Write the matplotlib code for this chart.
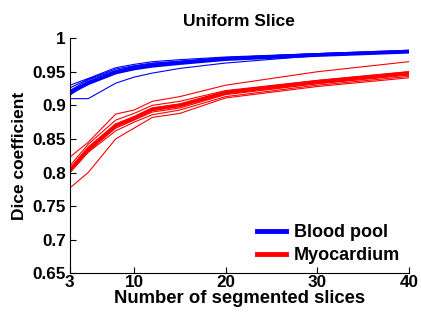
import numpy as np
import matplotlib.pyplot as plt

# number of segmented slices
slices = [3, 5, 8, 10, 12, 15, 20, 30, 40]

# blood pool: individual runs and mean
blood_runs = [
    [0.910, 0.910, 0.933, 0.942, 0.948, 0.955, 0.963, 0.974, 0.979],
    [0.915, 0.934, 0.948, 0.955, 0.958, 0.963, 0.968, 0.975, 0.980],
    [0.918, 0.936, 0.950, 0.956, 0.960, 0.964, 0.969, 0.976, 0.980],
    [0.922, 0.938, 0.952, 0.958, 0.962, 0.965, 0.970, 0.976, 0.981],
    [0.926, 0.939, 0.954, 0.959, 0.963, 0.966, 0.971, 0.977, 0.981],
    [0.930, 0.940, 0.956, 0.961, 0.965, 0.968, 0.972, 0.977, 0.982],
]
blood_mean = [0.919, 0.933, 0.949, 0.955, 0.959, 0.963, 0.969, 0.975, 0.980]

# myocardium: individual runs and mean
myo_runs = [
    [0.823, 0.845, 0.887, 0.893, 0.906, 0.913, 0.930, 0.950, 0.965],
    [0.810, 0.842, 0.878, 0.888, 0.900, 0.906, 0.922, 0.937, 0.950],
    [0.806, 0.838, 0.872, 0.883, 0.896, 0.902, 0.920, 0.935, 0.948],
    [0.802, 0.832, 0.866, 0.878, 0.890, 0.896, 0.916, 0.932, 0.945],
    [0.800, 0.830, 0.862, 0.875, 0.886, 0.893, 0.913, 0.930, 0.943],
    [0.777, 0.800, 0.850, 0.866, 0.882, 0.888, 0.911, 0.928, 0.941],
]
myo_mean = [0.803, 0.834, 0.870, 0.881, 0.894, 0.900, 0.919, 0.935, 0.948]

x_ticks = [3, 10, 20, 30, 40]
y_ticks = [0.65, 0.7, 0.75, 0.8, 0.85, 0.9, 0.95, 1.0]
y_tick_labels = ['0.65', '0.7', '0.75', '0.8', '0.85', '0.9', '0.95', '1']

plt.rcParams.update({
    'font.family': 'Liberation Sans',
    'font.weight': 'bold',
})

fig = plt.figure(figsize=(4.21, 3.13), dpi=100)
ax = fig.add_axes([0.166, 0.127, 0.805, 0.751])

for run in blood_runs:
    ax.plot(slices, run, color='#0000ff', linewidth=0.8)
for run in myo_runs:
    ax.plot(slices, run, color='#ff0000', linewidth=0.8)
ax.plot(slices, blood_mean, color='#0000ff', linewidth=2.8, label='Blood pool')
ax.plot(slices, myo_mean, color='#ff0000', linewidth=2.8, label='Myocardium')

ax.set_xlim(3, 40)
ax.set_ylim(0.65, 1.0)
ax.set_xticks(x_ticks)
ax.set_yticks(y_ticks)
ax.set_yticklabels(y_tick_labels)
ax.tick_params(direction='in', labelsize=12.3, length=4, width=0.8)
ax.tick_params(axis='y', pad=3)
ax.tick_params(axis='x', pad=1.5)
for s in ['top', 'right']:
    ax.spines[s].set_visible(False)
for s in ['left', 'bottom']:
    ax.spines[s].set_linewidth(0.8)

ax.set_xlabel('Number of segmented slices', fontsize=13.3, fontweight='bold', labelpad=0)
ax.set_ylabel('Dice coefficient', fontsize=12.5, fontweight='bold', labelpad=4)
ax.set_title('Uniform Slice', fontsize=12.5, fontweight='bold', pad=9)

leg = ax.legend(loc='lower right', frameon=False, fontsize=13, handlelength=1.6,
                handletextpad=0.4, borderaxespad=0.1, labelspacing=0.35)
for line in leg.get_lines():
    line.set_linewidth(3.5)

fig.savefig('out.png', dpi=100)
